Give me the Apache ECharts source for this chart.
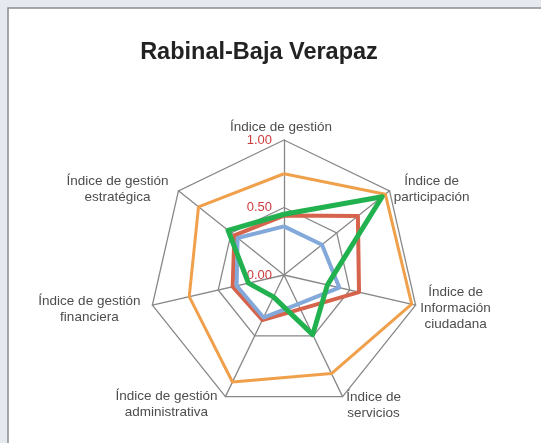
<!DOCTYPE html>
<html><head><meta charset="utf-8">
<script src="https://cdn.jsdelivr.net/npm/echarts@6/dist/echarts.min.js"></script>
<style>html,body{margin:0;padding:0;background:#fff;overflow:hidden}#c{width:541px;height:443px}</style>
</head><body><div id="c"></div>
<script>
// Categories clockwise from the top
const categories = ['Índice de gestión', 'Índice de participación', 'Índice de Información ciudadana', 'Índice de servicios', 'Índice de gestión administrativa', 'Índice de gestión financiera', 'Índice de gestión estratégica'];
const categoryLines = [['Índice de gestión'], ['Índice de', 'participación'], ['Índice de', 'Información', 'ciudadana'], ['Índice de', 'servicios'], ['Índice de gestión', 'administrativa'], ['Índice de gestión', 'financiera'], ['Índice de gestión', 'estratégica']];
const orangeValues = [0.75, 0.96, 0.97, 0.81, 0.88, 0.72, 0.81];
const redValues    = [0.44, 0.70, 0.57, 0.28, 0.37, 0.39, 0.47];
const blueValues   = [0.36, 0.36, 0.42, 0.24, 0.35, 0.36, 0.44];
const greenValues  = [0.45, 0.93, 0.33, 0.49, 0.18, 0.27, 0.53];
const tickLabels = ['0.00', '0.50', '1.00'];
const titleText = 'Rabinal-Baja Verapaz';

// ECharts lays indicators counter-clockwise; reorder to get clockwise
const order = [0, 6, 5, 4, 3, 2, 1];
const reorder = arr => order.map(i => arr[i]);

// label placement offsets from each axis end (style only): [dx, dy of first line centre]
const nameOffsets = [[-3, -13], [42, -10], [40, -13], [31, 1], [-59, 0], [-63, -4], [-61, -10]];

const chart = echarts.init(document.getElementById('c'), null, {renderer: 'canvas'});
const FONT = '"Liberation Sans", Arial, sans-serif';

const indicator = order.map((i, k) => {
  const o = {name: categories[i], min: 0, max: 1};
  if (k === 0) o.axisLabel = {show: true};
  return o;
});

const series = [
  {values: orangeValues, color: '#F0A04B', width: 3},
  {values: redValues, color: '#D6634B', width: 4},
  {values: blueValues, color: '#83A9DA', width: 4},
  {values: greenValues, color: '#21B14F', width: 5}
];

const baseGraphic = [{type: 'rect', id: 'frame', z: -10, shape: {x: 8, y: 8, width: 560, height: 470},
  style: {fill: '#ffffff', stroke: '#8c8c8c', lineWidth: 1.5}}];

chart.setOption({
  animation: false,
  backgroundColor: '#e6eaf0',
  graphic: baseGraphic,
  title: {text: titleText, left: 254, top: 36, textAlign: 'center',
    textStyle: {fontFamily: FONT, fontSize: 23.5, fontWeight: 'bold', color: '#222'}},
  radar: {
    center: [284, 275], radius: 135, startAngle: 90, splitNumber: 2,
    shape: 'polygon',
    indicator: indicator,
    axisName: {show: false},
    axisLine: {lineStyle: {color: '#888', width: 1.3}},
    splitLine: {lineStyle: {color: '#888', width: 1.3}},
    splitArea: {show: false},
    axisTick: {show: false},
    axisLabel: {show: false, color: '#cc3b3e', fontFamily: FONT, fontSize: 13, margin: 12,
      formatter: v => tickLabels[Math.round(v / 0.5)]}
  },
  series: series.map(s => ({
    type: 'radar', symbol: 'none', silent: true,
    lineStyle: {color: s.color, width: s.width},
    itemStyle: {color: s.color},
    data: [{value: reorder(s.values)}]
  }))
});

// Axis names placed at the ends of the radar axes
const radarCS = chart.getModel().getComponent('radar').coordinateSystem;
const LH = 16;
const nameGraphics = categories.map((c, i) => {
  const k = order.indexOf(i);
  const p = radarCS.dataToPoint(1, k);
  const off = nameOffsets[i];
  return {
    type: 'text', id: 'name' + i, silent: true,
    x: p[0] + off[0], y: p[1] + off[1] - LH / 2,
    style: {text: categoryLines[i].join('\n'), align: 'center', verticalAlign: 'top',
      fill: '#4d4d4d', fontFamily: FONT, fontSize: 13.5, lineHeight: LH}
  };
});
chart.setOption({graphic: baseGraphic.concat(nameGraphics)});
</script></body></html>
